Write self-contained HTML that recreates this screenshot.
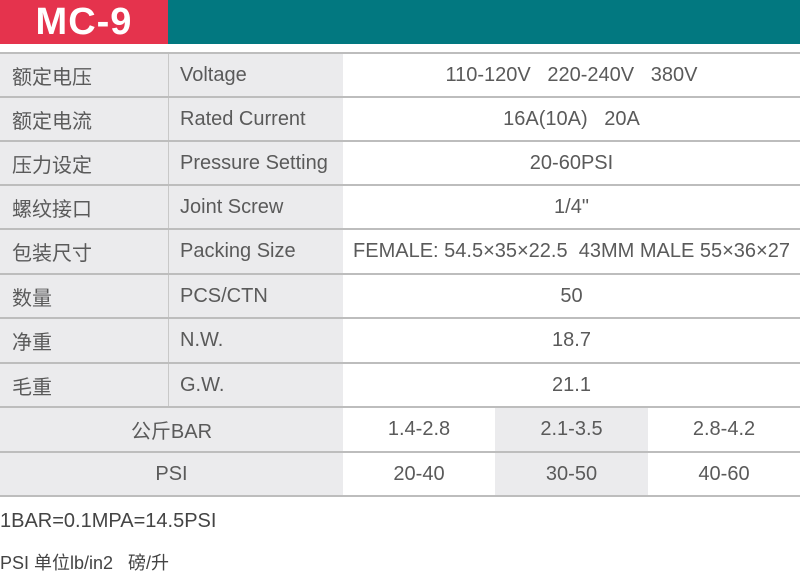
<!DOCTYPE html>
<html><head><meta charset="utf-8"><style>
body{margin:0;width:800px;height:572px;background:#fff;position:relative;overflow:hidden;font-family:"Liberation Sans","Noto Sans CJK SC",sans-serif;color:#555}
.a{position:absolute}
.hl{position:absolute;left:0;width:800px;height:2px;background:#bdbdbd}
.c{position:absolute;display:flex;align-items:center;font-size:20px;color:#5a5a5a;white-space:nowrap}
</style></head><body>
<div class="a" style="left:0;top:0;width:168px;height:44px;background:#e5334d;color:#fff;font-weight:bold;font-size:38px;display:flex;align-items:center;justify-content:center;letter-spacing:1px">MC-9</div>
<div class="a" style="left:168px;top:0;width:632px;height:44px;background:#027880"></div>
<div id="t"></div>
<div class="a" style="left:0;top:510px;font-size:20px;color:#444">1BAR=0.1MPA=14.5PSI</div>
<div class="a" style="left:0;top:549px;font-size:18px;color:#444">PSI 单位lb/in2&nbsp;&nbsp;&nbsp;磅/升</div>
<script>
const cn=["额定电压","额定电流","压力设定","螺纹接口","包装尺寸","数量","净重","毛重"];
const en=["Voltage","Rated Current","Pressure Setting","Joint Screw","Packing Size","PCS/CTN","N.W.","G.W."];
const val=["110-120V   220-240V   380V","16A(10A)   20A","20-60PSI","1/4\"","FEMALE: 54.5×35×22.5  43MM MALE 55×36×27","50","18.7","21.1"];
const bar=["1.4-2.8","2.1-3.5","2.8-4.2"];
const psi=["20-40","30-50","40-60"];
const t=document.getElementById('t');
const lines=[53,97,141,185,229,274,318,363,407,452,496];
function box(x,y,w,h,bg,txt,center,name){
 const d=document.createElement('div');d.className='c';
 
 
 d.style.cssText+=`left:${x}px;top:${y}px;width:${w}px;height:${h}px;background:${bg};justify-content:${center?'center':'flex-start'};padding-left:${center?0:12}px;box-sizing:border-box`;
 d.textContent=txt;t.appendChild(d);
}
for(let i=0;i<8;i++){
 const y=lines[i],h=lines[i+1]-y;
 box(0,y,168,h,'#ebebed',cn[i],false,'label-cn-'+i);
 box(168,y,175,h,'#ebebed',en[i],false,'label-en-'+i);
 box(343,y,457,h,'#fff',val[i].replace(/ /g,'\u00a0'),true,'value-'+i);
 const v=document.createElement('div');v.className='a';
 
 
 v.style.cssText=`left:168px;top:${y}px;width:1px;height:${h}px;background:#c8c8c8`;t.appendChild(v);
}
const xs=[343,495,648,800];
[[bar,'公斤BAR'],[psi,'PSI']].forEach((r,k)=>{
 const y=lines[8+k],h=lines[9+k]-y;
 box(0,y,343,h,'#ebebed',r[1],true,'pressure-label-'+k);
 r[0].forEach((s,j)=>box(xs[j],y,xs[j+1]-xs[j],h,j==1?'#ebebed':'#fff',s,true,'pressure-value-'+k+'-'+j));
});
lines.forEach(y=>{const l=document.createElement('div');l.className='hl';
 
 
 l.style.top=(y-1)+'px';t.appendChild(l);});
</script>
</body></html>
